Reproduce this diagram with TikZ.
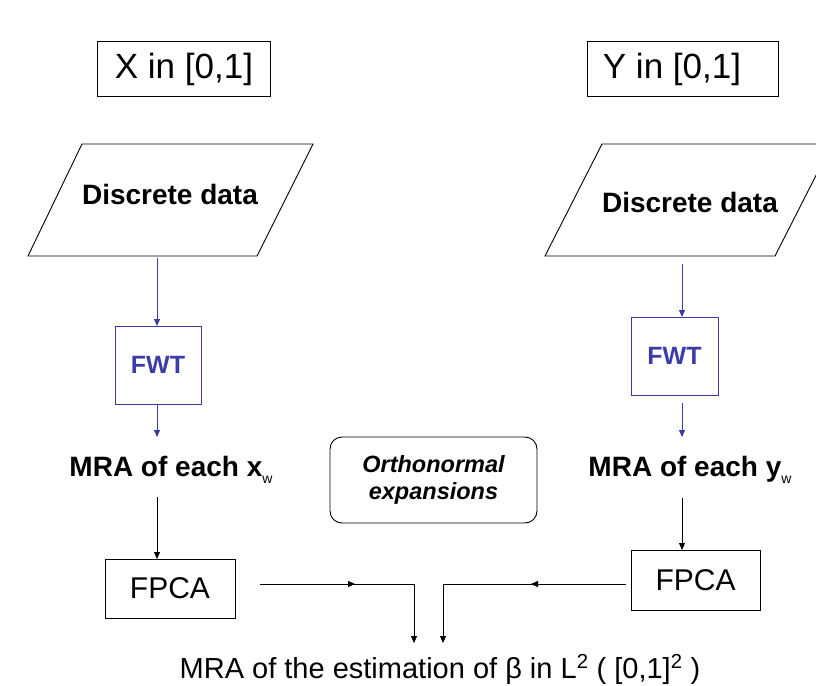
\documentclass[tikz,border=0pt]{standalone}
\usepackage{fontspec}
\setmainfont{Liberation Sans}
\usetikzlibrary{arrows.meta}
\definecolor{fwtblue}{RGB}{60,60,168}
\newcommand{\fsz}[1]{\fontsize{#1}{#1}\selectfont}
\begin{document}
\begin{tikzpicture}[x=1pt,y=-1pt,
  every node/.style={inner sep=0pt, outer sep=0pt},
  rectbox/.style={draw, line width=0.9pt},
  fwtbox/.style={draw=fwtblue, line width=0.9pt, text=fwtblue, font=\fsz{25}\bfseries, minimum width=86pt, minimum height=78pt},
  arr/.style={line width=0.8pt, -{Triangle[length=7pt,width=6pt]}},
  barr/.style={arr, draw=fwtblue, -{Triangle[length=7pt,width=6pt]}, color=fwtblue},
  shapeline/.style={line width=0.9pt}
]
\useasboundingbox (0,0) rectangle (816,685);
\clip (0,0) rectangle (816,685);

% top boxes
\node[rectbox, minimum width=173pt, minimum height=55pt, font=\fsz{35}] (X) at (184,69) {X in [0,1]};
\node[rectbox, minimum width=191pt, minimum height=55pt, font=\fsz{35}] (Y) at (683,69) {\hspace*{-22pt}Y in [0,1]};

% parallelograms
\draw[shapeline] (82,144) -- (313,144) -- (257,256) -- (28,256) -- cycle;
\node[font=\fsz{28}\bfseries] (DL) at (170,194) {Discrete data};
\draw[shapeline] (602,144) -- (832,144) -- (775,256) -- (545,256) -- cycle;
\node[font=\fsz{28}\bfseries] (DR) at (690,202) {Discrete data};
\coordinate (DLb) at (157,258);
\coordinate (DRb) at (682,264);

% FWT boxes
\node[fwtbox, minimum width=86pt] (FL) at (158,365) {FWT};
\node[fwtbox, minimum width=87pt] (FR) at (674.5,356) {FWT};

% MRA labels
\node[font=\fsz{28}\bfseries] (ML) at (171,470) {MRA of each x\raisebox{-7pt}{\fsz{14}\mdseries w}};
\node[font=\fsz{28}\bfseries] (MR) at (690,470) {MRA of each y\raisebox{-7pt}{\fsz{14}\mdseries w}};

% Orthonormal box
\node[rectbox, rounded corners=12pt, minimum width=207pt, minimum height=86pt, align=center, font=\fsz{23.5}\bfseries\itshape] (O) at (433.5,480) {Orthonormal\\[4pt]expansions};

% FPCA boxes
\node[rectbox, minimum width=130pt, minimum height=59pt, font=\fsz{30}] (PL) at (170,588.5) {FPCA};
\node[rectbox, minimum width=129pt, minimum height=60pt, font=\fsz{30}] (PR) at (695.5,580) {FPCA};

% bottom text
\node[font=\fsz{29}, anchor=base] (B) at (440,678) {MRA of the estimation of β in L\textsuperscript{2} ( [0,1]\textsuperscript{2} )};

% blue connectors
\draw[barr] (DLb) -- (FL.north -| DLb);
\coordinate (FLb) at (157,404);
\coordinate (MLt) at (157,437);
\draw[barr] (FLb) -- (MLt);
\draw[barr] (DRb) -- (FR.north -| DRb);
\coordinate (FRb) at (682,403);
\coordinate (MRt) at (682,437);
\draw[barr] (FRb) -- (MRt);

% black connectors
\coordinate (MLb) at (157,497);
\draw[arr] (MLb) -- (PL.north -| MLb);
\coordinate (MRb) at (682,498);
\draw[arr] (MRb) -- (PR.north -| MRb);

% to bottom
\coordinate (LS) at (260,584);
\coordinate (LM) at (355,584);
\coordinate (LE) at (414,643);
\draw[arr] (LS) -- (LM);
\draw[arr] (LS) -| (LE);
\coordinate (RS) at (626,584);
\coordinate (RM) at (531,584);
\coordinate (RE) at (443,643);
\draw[arr] (RS) -- (RM);
\draw[arr] (RS) -| (RE);
\end{tikzpicture}
\end{document}
